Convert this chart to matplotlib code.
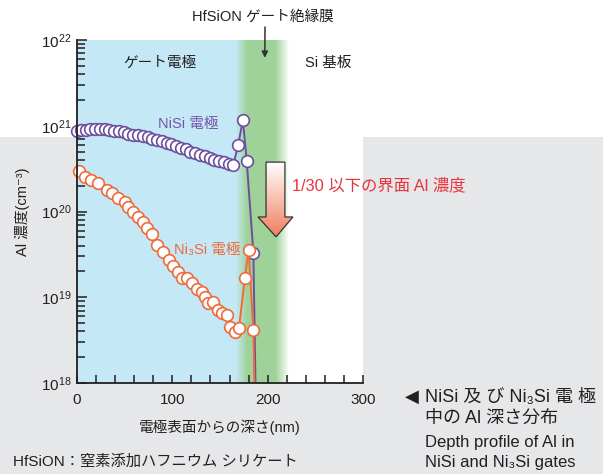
import numpy as np
import matplotlib
matplotlib.use("Agg")
import matplotlib.pyplot as plt
from matplotlib.patches import Polygon, Rectangle
from matplotlib.ticker import LogLocator, MultipleLocator, FixedLocator, NullFormatter

plt.rcParams['font.family'] = ['Liberation Sans', 'DejaVu Sans', 'Noto Sans CJK JP']
plt.rcParams['mathtext.fontset'] = 'custom'
plt.rcParams['mathtext.rm'] = 'Liberation Sans'
plt.rcParams['mathtext.default'] = 'regular'

# Al depth profile in NiSi gate (depth in nm, concentration in cm^-3)
nisi_depth = [0, 4, 9, 14, 19, 24, 29, 34, 39, 44, 49, 54, 59, 64, 69, 74, 79,
              84, 89, 94, 99, 104, 109, 114, 119, 124, 129, 134, 139, 144, 149,
              154, 159, 164, 169, 174, 178, 185, 188]
nisi_al = [8.7e20, 8.9e20, 9.0e20, 9.1e20, 9.2e20, 9.2e20, 9.1e20, 9.0e20,
           8.8e20, 8.6e20, 8.4e20, 8.1e20, 7.9e20, 7.7e20, 7.5e20, 7.3e20,
           7.0e20, 6.8e20, 6.6e20, 6.3e20, 6.1e20, 5.8e20, 5.5e20, 5.3e20,
           5.0e20, 4.8e20, 4.6e20, 4.4e20, 4.2e20, 4.0e20, 3.9e20, 3.8e20,
           3.6e20, 3.5e20, 5.9e20, 1.17e21, 3.9e20, 3.3e19, 3.0e17]

# Al depth profile in Ni3Si gate
ni3si_depth = [2, 8, 15, 22, 31, 37, 43, 50, 53, 59, 64, 69, 73, 79, 84, 90,
               97, 101, 106, 110, 115, 121, 126, 131, 134, 137, 143, 148, 152,
               157, 161, 166, 170, 176, 180, 185, 187]
ni3si_al = [2.95e20, 2.5e20, 2.35e20, 2.15e20, 1.8e20, 1.65e20, 1.45e20,
            1.3e20, 1.12e20, 9.8e19, 8.7e19, 7.6e19, 6.5e19, 5.4e19, 4.1e19,
            3.4e19, 2.7e19, 2.3e19, 1.95e19, 1.66e19, 1.66e19, 1.48e19,
            1.26e19, 1.15e19, 1.0e19, 8.5e18, 8.7e18, 7.1e18, 6.6e18, 6.2e18,
            4.5e18, 3.9e18, 4.4e18, 1.66e19, 3.55e19, 4.1e18, 3.0e17]

x_major = [0, 100, 200, 300]

TEXT = '#231f20'
PURPLE = '#6b4f9e'
ORANGE = '#ef6a3a'
W, H = 603, 474

fig = plt.figure(figsize=(W / 100, H / 100), dpi=100)
fig.patch.set_facecolor('white')
fig.patches.append(Rectangle((0, 0), 1, 1 - 137 / H, transform=fig.transFigure,
                             facecolor='#e6e7e9', edgecolor='none', zorder=-10))

ax = fig.add_axes([77 / W, 1 - 383 / H, 286 / W, 343 / H])
ax.set_facecolor('white')
ax.set_yscale('log')

# layer background: gate electrode (blue), HfSiON film (green), Si substrate (white)
xs = np.linspace(0, 300, 601)
stops = [0, 166, 178, 208, 222, 300]
blue = (0.776, 0.910, 0.969)
green = (0.620, 0.827, 0.600)
white = (1.0, 1.0, 1.0)
cols = [blue, blue, green, green, white, white]
band = np.stack([np.interp(xs, stops, [c[i] for c in cols]) for i in range(3)], axis=-1)
ax.imshow(band[np.newaxis, :, :], extent=[0, 300, 1e18, 1e22], aspect='auto',
          zorder=0, interpolation='bilinear')

# gradient arrow showing the drop at the interface
arrow_pts = [(0.661, 0.644), (0.727, 0.644), (0.727, 0.484), (0.755, 0.484),
             (0.696, 0.426), (0.633, 0.484), (0.661, 0.484)]
poly = Polygon(arrow_pts, closed=True, transform=ax.transAxes, facecolor='none',
               edgecolor='#333333', lw=0.9, zorder=3)
ax.add_patch(poly)
grad = np.linspace(0, 1, 100)[:, None]
c0 = np.array([1.0, 1.0, 1.0])
c1 = np.array([0.945, 0.490, 0.365])
gimg = c0[None, None, :] * (1 - grad[..., None]) + c1[None, None, :] * grad[..., None]
gi = ax.imshow(gimg, extent=[0.63, 0.76, 0.426, 0.644], transform=ax.transAxes,
               aspect='auto', zorder=2.9, origin='upper')
gi.set_clip_path(poly)

# series: lines clipped to the axes, markers allowed to overhang the spine
for d, v, col, z in [(nisi_depth, nisi_al, PURPLE, 4), (ni3si_depth, ni3si_al, ORANGE, 5)]:
    d = np.asarray(d, float)
    v = np.asarray(v, float)
    ax.plot(d, v, color=col, lw=1.4, zorder=z, clip_on=True)
    m = v >= 1e18
    ax.plot(d[m], v[m], ls='none', marker='o', ms=8.4, mfc='white', mec=col,
            mew=1.2, zorder=z + 0.5, clip_on=False)

ax.set_xlim(0, 300)
ax.set_ylim(1e18, 1e22)

for s in ['top', 'right']:
    ax.spines[s].set_visible(False)
for s in ['left', 'bottom']:
    ax.spines[s].set_color(TEXT)
    ax.spines[s].set_linewidth(1.3)
    ax.spines[s].set_zorder(6)

ax.xaxis.set_major_locator(FixedLocator(x_major))
ax.xaxis.set_minor_locator(MultipleLocator(20))
ax.yaxis.set_major_locator(LogLocator(base=10, numticks=10))
ax.yaxis.set_minor_locator(LogLocator(base=10, subs=np.arange(2, 10), numticks=10))
ax.yaxis.set_minor_formatter(NullFormatter())
ax.tick_params(axis='both', which='both', direction='in', colors=TEXT,
               labelcolor=TEXT, labelsize=11, width=1.1)
ax.tick_params(axis='y', which='major', length=7, pad=4)
ax.tick_params(axis='y', which='minor', length=6)
ax.tick_params(axis='x', which='both', length=5.5, pad=7)
ax.tick_params(top=False, right=False)

ax.set_xlabel('電極表面からの深さ(nm)', fontsize=10.5, color=TEXT, labelpad=9)
ax.set_ylabel('Al 濃度(cm⁻³)', fontsize=10.5, color=TEXT, labelpad=8)

# region and series labels
ax.text(87, 5.4e21, 'ゲート電極', fontsize=10.5, color=TEXT, ha='center', va='center')
ax.text(264, 5.4e21, 'Si 基板', fontsize=10.5, color=TEXT, ha='center', va='center')
ax.text(148, 1.05e21, 'NiSi 電極', fontsize=10.5, color='#7356a6', ha='right', va='center')
ax.text(172, 3.6e19, 'Ni₃Si 電極', fontsize=10.5, color=ORANGE, ha='right', va='center')
ax.text(225, 2.0e20, '1/30 以下の界面 Al 濃度', fontsize=11.8, color='#e8343c',
        ha='left', va='center', zorder=7, clip_on=False)

# insulating film annotation above the plot
fig.text(263 / W, 1 - 17 / H, 'HfSiON ゲート絶縁膜', fontsize=10.5, color=TEXT,
         ha='center', va='center')
ax.annotate('', xy=(197, 6.2e21), xycoords='data', xytext=(265, H - 27),
            textcoords='figure pixels',
            arrowprops=dict(arrowstyle='-|>', color='#333333', lw=1.1,
                            mutation_scale=9, shrinkA=0, shrinkB=0))

# captions
fig.text(13 / W, 1 - 462 / H, 'HfSiON：窒素添加ハフニウム シリケート', fontsize=11,
         color=TEXT, ha='left', va='center')
fig.text(405 / W, 1 - 397 / H, '◀', fontsize=13, color=TEXT, ha='left', va='center',
         family=['DejaVu Sans'])
fig.text(425 / W, 1 - 397 / H, 'NiSi 及 び Ni₃Si 電 極', fontsize=13, color=TEXT,
         ha='left', va='center')
fig.text(425 / W, 1 - 418 / H, '中の Al 深さ分布', fontsize=13, color=TEXT,
         ha='left', va='center')
fig.text(425 / W, 1 - 442 / H, 'Depth profile of Al in', fontsize=12, color=TEXT,
         ha='left', va='center')
fig.text(425 / W, 1 - 462 / H, 'NiSi and Ni₃Si gates', fontsize=12, color=TEXT,
         ha='left', va='center')

fig.savefig('out.png', dpi=100)
